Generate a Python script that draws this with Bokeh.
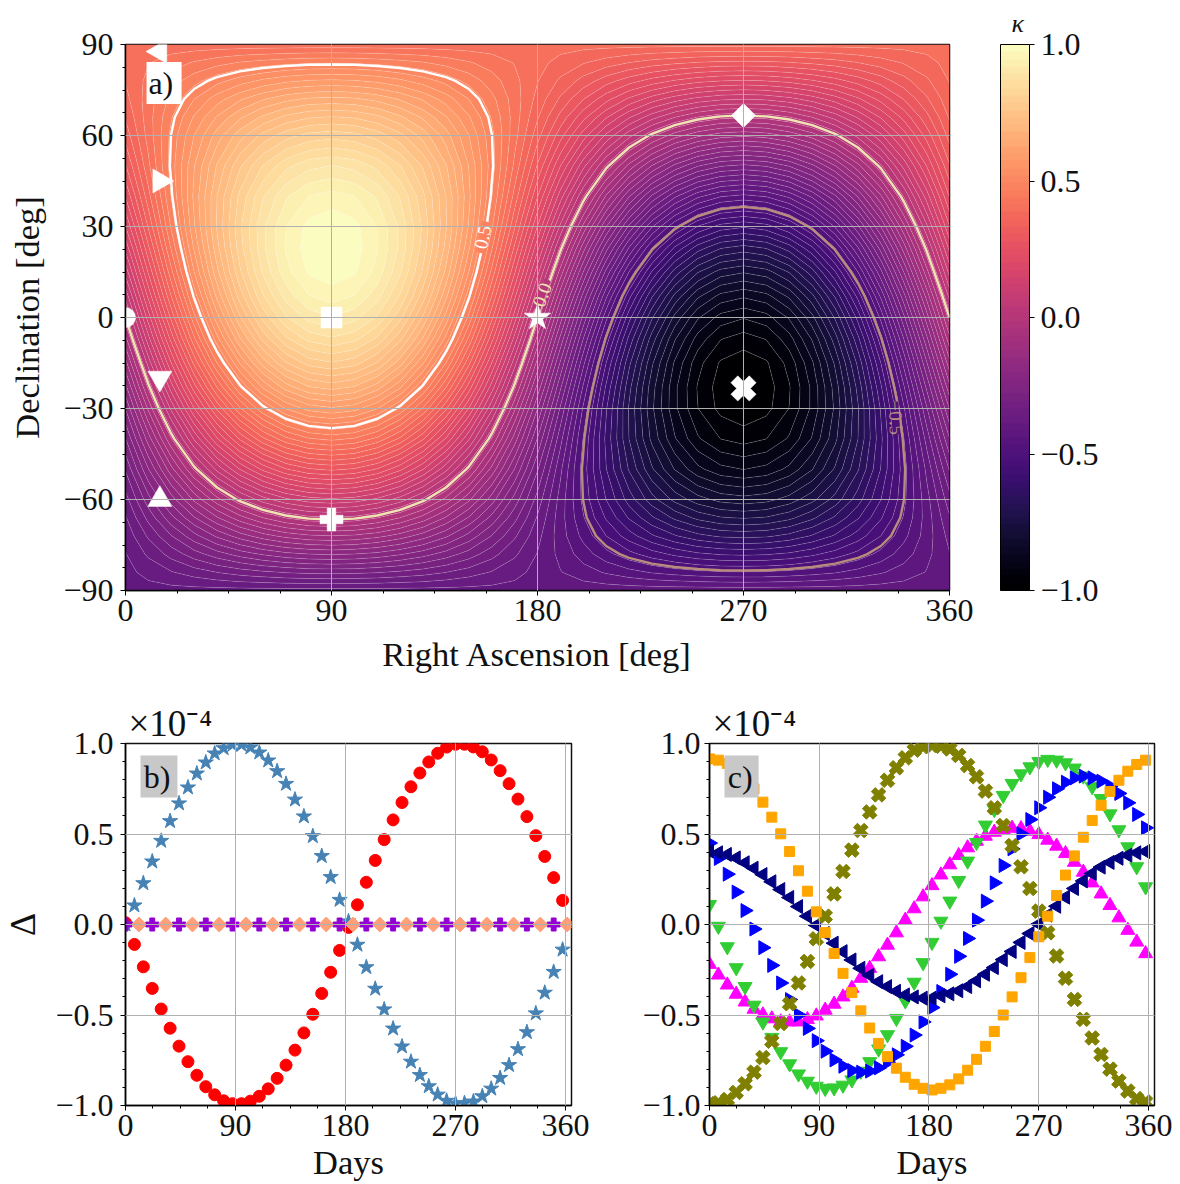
import math
from bokeh.embed import file_html
from bokeh.resources import INLINE
from bokeh.core.properties import value
from bokeh.layouts import column, row
from bokeh.models import (BoxAnnotation, ColorBar, FixedTicker, Label, LinearColorMapper, Range1d)
from bokeh.palettes import magma
from bokeh.plotting import figure

# ---- panel a: kappa at grid nodes, estimated from the picture's colours and contours.
# The map is mirror-symmetric about RA 90 and RA 270, so each row holds RA 0..90 and RA 190..270.
ra_nodes = [10 * i for i in range(37)]
dec_nodes = [-90,-84,-78,-72,-66,-60,-50,-40,-30,-23,-15,-7,0,7,15,23,30,40,50,60,66,72,78,84,90]
kappa_east = [
 [-.397]*10,
 [-.395,-.378,-.362,-.347,-.333,-.321,-.312,-.305,-.300,-.299],
 [-.388,-.355,-.323,-.292,-.265,-.242,-.223,-.208,-.200,-.197],
 [-.378,-.329,-.281,-.236,-.195,-.160,-.132,-.111,-.098,-.094],
 [-.363,-.298,-.235,-.176,-.123,-.077,-.040,-.012,.005,.010],
 [-.344,-.264,-.187,-.114,-.049,.008,.054,.087,.108,.115],
 [-.304,-.201,-.102,-.009,.075,.148,.207,.251,.277,.286],
 [-.255,-.133,-.015,.097,.197,.284,.354,.406,.437,.448],
 [-.199,-.061,.073,.199,.312,.410,.489,.548,.584,.596],
 [-.155,-.008,.134,.268,.388,.492,.577,.639,.677,.690],
 [-.103,.051,.200,.341,.467,.576,.665,.731,.771,.784],
 [-.048,.111,.264,.408,.538,.650,.741,.808,.849,.863],
 [0,.160,.314,.459,.590,.703,.795,.863,.904,.918],
 [.048,.207,.360,.504,.634,.746,.837,.904,.945,.959],
 [.103,.257,.406,.547,.673,.782,.871,.937,.977,.990],
 [.155,.302,.444,.578,.698,.802,.887,.949,.987,1.0],
 [.199,.337,.471,.597,.710,.808,.887,.946,.982,.994],
 [.255,.377,.495,.607,.707,.794,.864,.916,.947,.958],
 [.304,.407,.506,.599,.683,.756,.815,.859,.885,.894],
 [.344,.424,.501,.574,.639,.696,.742,.775,.796,.803],
 [.363,.428,.491,.550,.603,.649,.686,.714,.731,.736],
 [.378,.427,.475,.520,.561,.596,.624,.645,.658,.662],
 [.388,.421,.453,.484,.511,.534,.553,.568,.576,.579],
 [.395,.412,.428,.443,.457,.469,.478,.485,.490,.491],
 [.397]*10,
]
kappa_west = [
 [-.397]*9,
 [-.412,-.428,-.443,-.457,-.469,-.478,-.485,-.490,-.491],
 [-.421,-.453,-.484,-.511,-.534,-.553,-.568,-.576,-.579],
 [-.427,-.475,-.520,-.561,-.596,-.624,-.645,-.658,-.662],
 [-.428,-.491,-.550,-.603,-.649,-.686,-.714,-.731,-.736],
 [-.424,-.501,-.574,-.639,-.696,-.742,-.775,-.796,-.803],
 [-.407,-.506,-.599,-.683,-.756,-.815,-.859,-.885,-.894],
 [-.377,-.495,-.607,-.707,-.794,-.864,-.916,-.947,-.958],
 [-.337,-.471,-.597,-.710,-.808,-.887,-.946,-.982,-.994],
 [-.302,-.444,-.578,-.698,-.802,-.887,-.949,-.987,-1.0],
 [-.257,-.406,-.547,-.673,-.782,-.871,-.937,-.977,-.990],
 [-.207,-.360,-.504,-.634,-.746,-.837,-.904,-.945,-.959],
 [-.160,-.314,-.459,-.590,-.703,-.795,-.863,-.904,-.918],
 [-.111,-.264,-.408,-.538,-.650,-.741,-.808,-.849,-.863],
 [-.051,-.200,-.341,-.467,-.576,-.665,-.731,-.771,-.784],
 [.008,-.134,-.268,-.388,-.492,-.577,-.639,-.677,-.690],
 [.061,-.073,-.199,-.312,-.410,-.489,-.548,-.584,-.596],
 [.133,.015,-.097,-.197,-.284,-.354,-.406,-.437,-.448],
 [.201,.102,.009,-.075,-.148,-.207,-.251,-.277,-.286],
 [.264,.187,.114,.049,-.008,-.054,-.087,-.108,-.115],
 [.298,.235,.176,.123,.077,.040,.012,-.005,-.010],
 [.329,.281,.236,.195,.160,.132,.111,.098,.094],
 [.355,.323,.292,.265,.242,.223,.208,.200,.197],
 [.378,.362,.347,.333,.321,.312,.305,.300,.299],
 [.397]*9,
]
kappa_rows = [e + e[-2::-1] + w + w[-2::-1] + [e[0]] for e, w in zip(kappa_east, kappa_west)]

level_count = 75
labelled_levels = [-0.5, 0.0, 0.5]
labelled_colors = ["#b98d7c", "#efe4b4", "#ffffff"]
labelled_text = ["−0.5", "0.0", "0.5"]
label_ra = [336.5, 182.0, 156.0]
label_dec = [-33.0, 7.5, 26.5]
label_angle = [-87, 70, 78]

# marker positions in panel a
circle_ra, circle_dec = [0], [0]
square_ra, square_dec = [90], [0]
star_ra, star_dec = [180], [0]
cross_ra, cross_dec = [270], [-23.4]
diamond_ra, diamond_dec = [270], [66.6]
plus_ra, plus_dec = [90], [-66.6]
left_ra, left_dec = [15], [87.7]
right_ra, right_dec = [15], [45]
down_ra, down_dec = [15], [-20]
up_ra, up_dec = [15], [-60]

# ---- panels b and c (units of 1e-4)
days = [0,7.3,14.6,21.9,29.2,36.5,43.8,51.1,58.4,65.7,73,80.3,87.6,94.9,102.2,109.5,116.8,124.1,131.4,138.7,146,153.3,160.6,167.9,175.2,
        182.5,189.8,197.1,204.4,211.7,219,226.3,233.6,240.9,248.2,255.5,262.8,270.1,277.4,284.7,292,299.3,306.6,313.9,321.2,328.5,335.8,343.1,350.4,357.7]
red_values = [0.01,-.11,-.234,-.353,-.467,-.573,-.672,-.758,-.833,-.896,-.941,-.974,-.99,-.99,-.976,-.949,-.908,-.85,-.777,-.694,-.599,-.496,-.381,-.264,-.143,
              -.016,.109,.233,.354,.469,.578,.674,.761,.837,.898,.946,.98,.996,.996,.981,.954,.909,.85,.778,.693,.596,.491,.376,.259,.133]
star_values = [0,.105,.228,.348,.462,.571,.669,.757,.834,.895,.945,.974,.993,.993,.978,.95,.906,.847,.777,.69,.597,.488,.378,.262,.136,
               .017,-.112,-.236,-.355,-.469,-.575,-.674,-.758,-.832,-.894,-.94,-.974,-.989,-.987,-.978,-.949,-.907,-.848,-.777,-.689,-.595,-.491,-.377,-.262,-.139]
plus_days = [0,21.9,43.8,65.7,87.6,109.5,131.4,153.3,175.2,197.1,219,240.9,262.8,284.7,306.6,328.5,350.4]
plus_values = [0]*17
diamond_days = [11,32.9,54.8,76.7,98.6,120.5,142.4,164.3,186.2,208.1,230,251.9,273.8,295.7,317.6,339.5,361.4]
diamond_values = [0]*17

orange_values = [.915,.908,.89,.855,.805,.749,.676,.593,.501,.403,.297,.184,.07,-.045,-.16,-.27,-.376,-.477,-.572,-.657,-.73,-.794,-.844,-.883,-.905,
                 -.914,-.905,-.886,-.853,-.805,-.745,-.673,-.591,-.5,-.4,-.294,-.183,-.068,.046,.16,.273,.379,.482,.575,.659,.735,.797,.847,.884,.908]
olive_values = [-.99,-.985,-.967,-.928,-.88,-.816,-.735,-.645,-.547,-.438,-.323,-.204,-.079,.046,.169,.293,.411,.519,.622,.716,.797,.866,.921,.963,.982,
                .989,.985,.97,.934,.878,.816,.737,.645,.547,.436,.319,.199,.074,-.046,-.174,-.297,-.414,-.524,-.627,-.718,-.799,-.865,-.92,-.962,-.98]
green_values = [.11,-.01,-.123,-.239,-.343,-.446,-.539,-.624,-.703,-.77,-.826,-.866,-.894,-.906,-.903,-.888,-.859,-.811,-.758,-.688,-.609,-.519,-.422,-.319,-.211,
                -.099,.018,.129,.243,.35,.453,.549,.635,.713,.779,.832,.871,.9,.912,.908,.893,.864,.82,.761,.696,.611,.523,.429,.319,.208]
blue_values = [.45,.365,.278,.179,.077,-.025,-.128,-.226,-.323,-.415,-.5,-.574,-.642,-.7,-.748,-.783,-.807,-.816,-.81,-.792,-.761,-.72,-.673,-.611,-.538,
               -.459,-.37,-.275,-.176,-.077,.024,.129,.23,.326,.418,.501,.58,.645,.703,.75,.786,.81,.82,.81,.792,.764,.724,.672,.608,.534]
navy_values = [.405,.396,.387,.368,.341,.311,.276,.236,.193,.149,.099,.046,-.004,-.05,-.103,-.15,-.196,-.242,-.281,-.316,-.343,-.369,-.389,-.4,-.407,
               -.407,-.394,-.383,-.366,-.343,-.311,-.275,-.238,-.194,-.149,-.099,-.05,.002,.052,.101,.151,.199,.241,.282,.317,.343,.366,.383,.396,.403]
magenta_values = [-.22,-.279,-.334,-.385,-.428,-.468,-.499,-.521,-.538,-.538,-.538,-.525,-.505,-.473,-.44,-.4,-.352,-.297,-.242,-.178,-.114,-.046,.024,.087,.153,
                  .215,.274,.33,.381,.424,.46,.488,.51,.525,.532,.53,.516,.497,.466,.433,.392,.344,.289,.23,.169,.105,.037,-.032,-.097,-.161]

FONT = "Liberation Serif"
TICK_SIZE = "32px"
LABEL_SIZE = "34.5px"
MINUS = {-1: "−1.0", -0.5: "−0.5", 0: "0.0", 0.5: "0.5", 1: "1.0"}


def style(p, xt, xm, yt, ym, overrides=None):
    p.xaxis.ticker = FixedTicker(ticks=xt, minor_ticks=xm)
    p.yaxis.ticker = FixedTicker(ticks=yt, minor_ticks=ym)
    if overrides:
        p.yaxis.major_label_overrides = overrides
    for ax in (p.xaxis[0], p.yaxis[0]):
        ax.major_label_text_font = FONT
        ax.major_label_text_font_size = TICK_SIZE
        ax.major_label_text_color = "#111111"
        ax.axis_label_text_font = FONT
        ax.axis_label_text_font_size = LABEL_SIZE
        ax.axis_label_text_font_style = "normal"
        ax.axis_label_text_color = "#111111"
        ax.major_tick_in = 0
        ax.major_tick_out = 5
        ax.minor_tick_in = 0
        ax.minor_tick_out = 3
        ax.major_tick_line_width = 1
        ax.minor_tick_line_width = 1
        ax.major_tick_line_color = "black"
        ax.minor_tick_line_color = "black"
        ax.axis_line_color = "black"
        ax.axis_line_width = 1.5
    p.xaxis[0].major_label_standoff = 4
    p.yaxis[0].major_label_standoff = 4
    for g in (p.xgrid[0], p.ygrid[0]):
        g.grid_line_color = "#b0b0b0"
        g.grid_line_width = 1
        g.level = "overlay"
    p.outline_line_color = "#111111"
    p.outline_line_width = 1.5


# ---- panel a
pa = figure(width=1180, height=690, x_range=Range1d(0, 360), y_range=Range1d(-90, 90),
            min_border_left=125, min_border_right=231, min_border_top=44, min_border_bottom=100,
            toolbar_location=None, output_backend="svg", title="κ",
            x_axis_label="Right Ascension [deg]", y_axis_label="Declination [deg]")
style(pa, [0, 90, 180, 270, 360], [22.5 * i for i in range(17)],
      [-90, -60, -30, 0, 30, 60, 90], [-90 + 7.5 * i for i in range(25)],
      {-90: "−90", -60: "−60", -30: "−30"})
pa.yaxis[0].major_label_standoff = 7
pa.xaxis.axis_label_standoff = 11
pa.yaxis.axis_label_standoff = 14
pa.title.text_font = FONT
pa.title.text_font_size = "26px"
pa.title.text_font_style = "italic"
pa.title.text_color = "#111111"
pa.title.align = "left"
pa.title.offset = 886
pa.title.standoff = 13

levels = [-1 + 2 * i / level_count for i in range(level_count + 1)]
band_colors = magma(level_count)
pa.contour(ra_nodes, dec_nodes, kappa_rows, levels, fill_color=band_colors,
           line_color="white", line_alpha=0.28, line_width=0.6)
pa.contour(ra_nodes, dec_nodes, kappa_rows, labelled_levels,
           line_color=labelled_colors, line_width=2.4)

# breaks in the labelled contours, then their inline labels
gap_colors = [band_colors[int(round((lv + 1) / 2 * level_count)) - 1] for lv in labelled_levels]
for xx, yy, a, c, gc, t in zip(label_ra, label_dec, label_angle, labelled_colors, gap_colors, labelled_text):
    pa.rect([xx], [yy], width=32, height=7, width_units="screen", height_units="screen",
            angle=math.radians(a), fill_color=gc, line_color=None)
    pa.text([xx], [yy], text=[t], angle=math.radians(a), text_align="center", text_baseline="middle",
            text_font=value(FONT), text_font_size="19px", text_color=c)

W = dict(fill_color="white", line_color="white", line_width=0.5)
pa.scatter(circle_ra, circle_dec, marker="circle", size=20, **W)
pa.scatter(square_ra, square_dec, marker="square", size=21, **W)
pa.scatter(star_ra, star_dec, marker="star", size=28, **W)
pa.scatter(cross_ra, cross_dec, marker="plus", size=26, angle=math.pi / 4, **W)
pa.scatter(diamond_ra, diamond_dec, marker="square", size=17, angle=math.pi / 4, **W)
pa.scatter(plus_ra, plus_dec, marker="plus", size=23, **W)
pa.scatter(left_ra, left_dec, marker="triangle", size=24, angle=math.pi / 2, **W)
pa.scatter(right_ra, right_dec, marker="triangle", size=24, angle=-math.pi / 2, **W)
pa.scatter(down_ra, down_dec, marker="inverted_triangle", size=24, **W)
pa.scatter(up_ra, up_dec, marker="triangle", size=24, **W)

pa.add_layout(BoxAnnotation(left=9.2, right=24.5, top=84.2, bottom=70.4, fill_color="white",
                            fill_alpha=1, line_color=None, level="overlay"))
pa.add_layout(Label(x=10, y=77.3, text="a)", text_font=FONT, text_font_size="32px",
                    text_baseline="middle", text_color="#111111", level="overlay"))

mapper = LinearColorMapper(palette=band_colors, low=-1, high=1)
cb = ColorBar(color_mapper=mapper, width=29, height=546, padding=0, margin=0,
              location=(875, 0), ticker=FixedTicker(ticks=[-1, -0.5, 0, 0.5, 1]),
              major_label_overrides=MINUS, major_label_text_font=FONT,
              major_label_text_font_size=TICK_SIZE, major_label_text_color="#111111",
              major_tick_in=0, major_tick_out=5, major_tick_line_color="black",
              bar_line_color="black", bar_line_width=1, label_standoff=6)
pa.add_layout(cb, "center")


def small(width, left, right, ylabel, y_standoff):
    p = figure(width=width, height=494, x_range=Range1d(0, 365), y_range=Range1d(-1, 1),
               min_border_left=left, min_border_right=right, min_border_top=53, min_border_bottom=79,
               toolbar_location=None, output_backend="svg", x_axis_label="Days", y_axis_label=ylabel,
               title="×10⁻⁴")
    style(p, [0, 90, 180, 270, 360], [22.5 * i for i in range(17)],
          [-1, -0.5, 0, 0.5, 1], [-1 + 0.1 * i for i in range(21)], MINUS)
    p.yaxis[0].major_label_standoff = y_standoff
    p.xaxis.axis_label_standoff = 4
    p.yaxis.axis_label_standoff = 9
    p.yaxis[0].axis_label_text_font_size = "36px"
    p.title.text_font = FONT
    p.title.text_font_size = "37px"
    p.title.text_font_style = "normal"
    p.title.text_color = "#111111"
    p.title.align = "left"
    p.title.offset = 3
    p.title.standoff = 0
    return p


# ---- panel b
pb = small(639, 125, 68, "Δ", 7)
pb.scatter(days, red_values, marker="circle", size=12, fill_color="red", line_color="red")
pb.scatter(days, star_values, marker="star", size=16, fill_color="steelblue", line_color="steelblue")
pb.scatter(plus_days, plus_values, marker="plus", size=13, fill_color="darkviolet", line_color="darkviolet")
pb.scatter(diamond_days, diamond_values, marker="square", size=10.5, angle=math.pi / 4, fill_color="lightsalmon", line_color="lightsalmon")
pb.add_layout(BoxAnnotation(left=12.3, right=42.5, top=0.934, bottom=0.702, fill_color="#c8c8c8",
                            fill_alpha=1, line_color=None, level="overlay"))
pb.add_layout(Label(x=15, y=0.815, text="b)", text_font=FONT, text_font_size="32px",
                    text_baseline="middle", text_color="#111111", level="overlay"))

# ---- panel c
pc = small(541, 70, 26, None, 4)
pc.scatter(days, magenta_values, marker="triangle", size=14, fill_color="magenta", line_color="magenta")
pc.scatter(days, green_values, marker="inverted_triangle", size=14, fill_color="limegreen", line_color="limegreen")
pc.scatter(days, blue_values, marker="triangle", size=14, angle=-math.pi / 2, fill_color="blue", line_color="blue")
pc.scatter(days, navy_values, marker="triangle", size=14, angle=math.pi / 2, fill_color="navy", line_color="navy")
pc.scatter(days, olive_values, marker="plus", size=15, angle=math.pi / 4, fill_color="olive", line_color="olive")
pc.scatter(days, orange_values, marker="square", size=10, fill_color="orange", line_color="orange")
pc.add_layout(BoxAnnotation(left=12.3, right=40.3, top=0.934, bottom=0.702, fill_color="#c8c8c8",
                            fill_alpha=1, line_color=None, level="overlay"))
pc.add_layout(Label(x=15, y=0.815, text="c)", text_font=FONT, text_font_size="32px",
                    text_baseline="middle", text_color="#111111", level="overlay"))

page = column(pa, row(pb, pc, spacing=0), spacing=0)
open("out.html", "w").write(file_html(page, INLINE))
